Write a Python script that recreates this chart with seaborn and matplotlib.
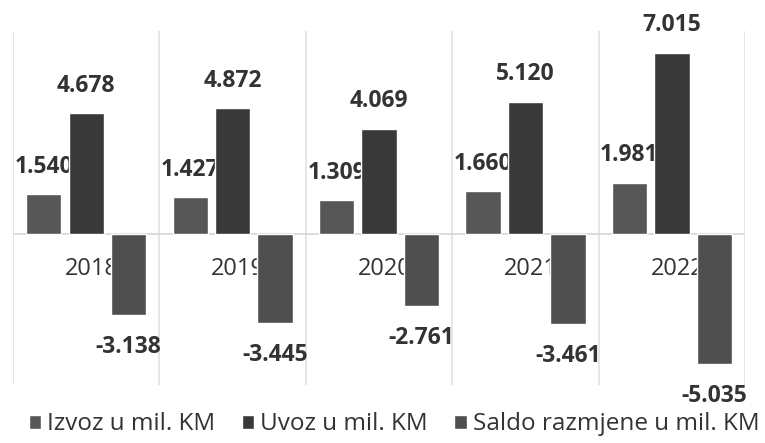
import pandas as pd
import matplotlib
matplotlib.use("Agg")
import matplotlib.pyplot as plt
import seaborn as sns

# Data (mil. KM)
years = ["2018", "2019", "2020", "2021", "2022"]
izvoz = [1540, 1427, 1309, 1660, 1981]
uvoz = [4678, 4872, 4069, 5120, 7015]
saldo = [-3138, -3445, -2761, -3461, -5035]
series_names = ["Izvoz u mil. KM", "Uvoz u mil. KM", "Saldo razmjene u mil. KM"]

df = pd.DataFrame({
    "godina": years * 3,
    "serija": [series_names[0]] * 5 + [series_names[1]] * 5 + [series_names[2]] * 5,
    "vrijednost": izvoz + uvoz + saldo,
})

sns.set_theme(style="white")
plt.rcParams["font.family"] = ["Open Sans", "DejaVu Sans"]

palette = {series_names[0]: "#575757", series_names[1]: "#393939", series_names[2]: "#4f4f4f"}
text_color = "#333333"

fig = plt.figure(figsize=(7.65, 4.43), dpi=100)
ax = fig.add_axes([0.017, 0.131, 0.957, 0.80])

sns.barplot(data=df, x="godina", y="vrijednost", hue="serija",
            hue_order=series_names, order=years, palette=palette,
            width=0.87, gap=0.17, saturation=1, ax=ax, zorder=2)

ax.set_xlim(-0.5, len(years) - 0.5)
ax.set_ylim(-5830, 7880)

# category separators and zero line
for i in range(len(years) + 1):
    ax.axvline(i - 0.5, color="#e2e2e2", lw=1.2, zorder=0)
ax.axhline(0, color="#d6d6d6", lw=1.2, zorder=0)

# value labels
def fmt(v):
    return f"{v:,.0f}".replace(",", ".")

for cont in ax.containers:
    vals = [b.get_height() for b in cont]
    for bar, v in zip(cont, vals):
        x = bar.get_x() + bar.get_width() / 2
        off = 20 if v >= 0 else -23
        ax.annotate(fmt(v), (x, v), xytext=(0, off), textcoords="offset points",
                    ha="center", va="center", fontsize=16.5, fontweight="bold",
                    color=text_color, zorder=1)

# year labels just under the zero line (behind the bars)
ax.set_xticks([])
for i, y in enumerate(years):
    ax.annotate(y, (i, 0), xytext=(4, -25), textcoords="offset points",
                ha="center", va="center", fontsize=17, color=text_color, zorder=1)

ax.set_yticks([])
ax.set_xlabel("")
ax.set_ylabel("")
for s in ax.spines.values():
    s.set_visible(False)

handles, labels = ax.get_legend_handles_labels()
ax.legend(handles, labels, loc="center", bbox_to_anchor=(0.515, 0.042),
          bbox_transform=fig.transFigure, ncol=3, frameon=False,
          fontsize=17.5, handlelength=0.5, handleheight=0.5,
          handletextpad=0.25, columnspacing=1.1, labelcolor=text_color)

fig.savefig("out.png", dpi=100, facecolor="white")
